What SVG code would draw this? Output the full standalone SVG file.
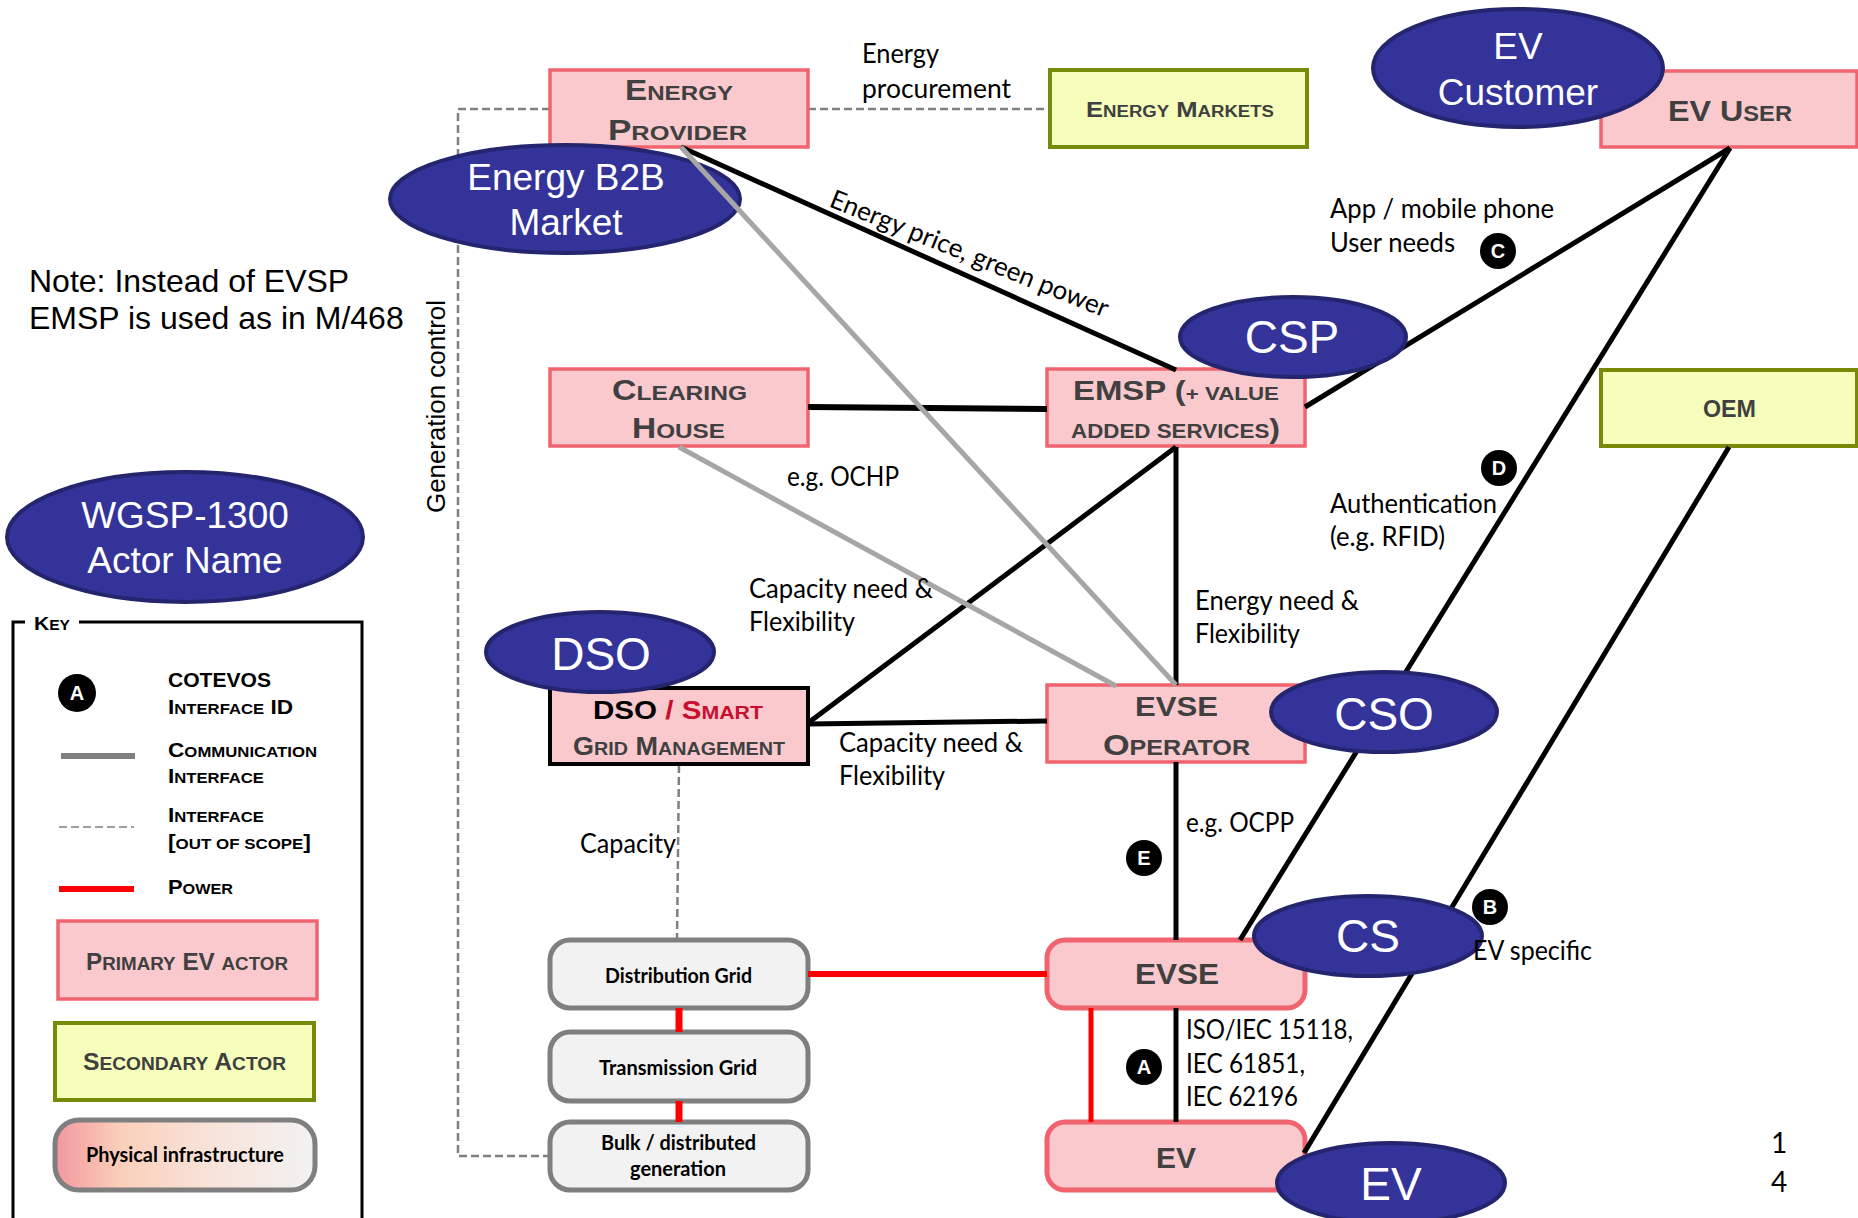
<svg xmlns="http://www.w3.org/2000/svg" width="1858" height="1218" viewBox="0 0 1858 1218">
  <style>
    .box{fill:#F9C9CD;stroke:#F0646F;stroke-width:3.5}
    .box-dso{fill:#F9C9CD;stroke:#000;stroke-width:4}
    .sec{fill:#F5FEBB;stroke:#778A0A;stroke-width:4}
    .infra{fill:#F2F2F2;stroke:#7F7F7F;stroke-width:5}
    .ev{fill:#F9C9CD;stroke:#F0646F;stroke-width:5}
    .actor{fill:#333399;stroke:#25256F;stroke-width:4}
    .t{font-family:"Liberation Sans",Arial,sans-serif;font-weight:bold;fill:#404040}
    .a{font-family:"Liberation Sans",Arial,sans-serif;fill:#fff;text-anchor:middle}
    .c{font-family:Lato,"Open Sans",sans-serif;font-size:26px;fill:#000}
    .i{font-family:Lato,"Open Sans",sans-serif;font-weight:bold;font-size:20px;fill:#000}
    .comm{stroke:#000;stroke-width:5;fill:none}
    .gray{stroke:#A6A6A6;stroke-width:5;fill:none}
    .pow{stroke:#F00;stroke-width:6;fill:none}
    .dash{stroke:#808080;stroke-width:2.5;stroke-dasharray:8 4;fill:none}
    .mk circle{fill:#000}
    .mk text{font-family:"Liberation Sans",Arial,sans-serif;font-weight:bold;font-size:20px;fill:#fff;text-anchor:middle}
  </style>
  <defs>
    <linearGradient id="physGrad" x1="0" y1="0" x2="1" y2="0">
      <stop offset="0" stop-color="#F2979E"/>
      <stop offset="0.25" stop-color="#FBCFBA"/>
      <stop offset="0.6" stop-color="#F8E3DA"/>
      <stop offset="1" stop-color="#F2F2F2"/>
    </linearGradient>
  </defs>
  <rect width="1858" height="1218" fill="#fff"/>

  <!-- out-of-scope interfaces (drawn beneath the actors) -->
  <g id="connectors-out-of-scope">
    <line class="dash" x1="808" y1="109" x2="1050" y2="109"/>
    <path class="dash" d="M550,109 H458 V1156 H550"/>
    <line class="dash" x1="679" y1="765" x2="677" y2="940"/>
  </g>

  <!-- primary and secondary actors -->
  <g id="energy-provider">
    <rect class="box" x="550" y="70" width="258" height="77"/>
    <text class="t" x="625" y="100" font-size="29" textLength="108" lengthAdjust="spacingAndGlyphs">E<tspan font-size="21">NERGY</tspan></text>
    <text class="t" x="608" y="140" font-size="29" textLength="139" lengthAdjust="spacingAndGlyphs">P<tspan font-size="21">ROVIDER</tspan></text>
  </g>
  <g id="energy-markets">
    <rect class="sec" x="1050" y="70" width="257" height="77"/>
    <text class="t" x="1086" y="117" font-size="22" textLength="188" lengthAdjust="spacingAndGlyphs">E<tspan font-size="16">NERGY</tspan> M<tspan font-size="16">ARKETS</tspan></text>
  </g>
  <g id="ev-user">
    <rect class="box" x="1601" y="71" width="256" height="76"/>
    <text class="t" x="1668" y="121" font-size="30" textLength="124" lengthAdjust="spacingAndGlyphs">EV U<tspan font-size="22">SER</tspan></text>
  </g>
  <g id="clearing-house">
    <rect class="box" x="550" y="369" width="258" height="77"/>
    <text class="t" x="612" y="400" font-size="29" textLength="135" lengthAdjust="spacingAndGlyphs">C<tspan font-size="21">LEARING</tspan></text>
    <text class="t" x="632" y="438" font-size="29" textLength="93" lengthAdjust="spacingAndGlyphs">H<tspan font-size="21">OUSE</tspan></text>
  </g>
  <g id="emsp">
    <rect class="box" x="1047" y="369" width="258" height="77"/>
    <text class="t" x="1073" y="400" font-size="28" textLength="206" lengthAdjust="spacingAndGlyphs">EMSP (<tspan font-size="19">+ VALUE</tspan></text>
    <text class="t" x="1071" y="438" font-size="19.5" textLength="209" lengthAdjust="spacingAndGlyphs">ADDED SERVICES<tspan font-size="28">)</tspan></text>
  </g>
  <g id="oem">
    <rect class="sec" x="1601" y="370" width="256" height="76"/>
    <text class="t" x="1703" y="417" font-size="23.5" textLength="53" lengthAdjust="spacingAndGlyphs">OEM</text>
  </g>
  <g id="dso-smart-grid">
    <rect class="box-dso" x="550" y="688" width="258" height="76"/>
    <text class="t" x="593" y="719" font-size="25" textLength="170" lengthAdjust="spacingAndGlyphs"><tspan fill="#000">DSO</tspan><tspan fill="#C8102E"> / S<tspan font-size="18">MART</tspan></tspan></text>
    <text class="t" x="573" y="755" font-size="26" textLength="212" lengthAdjust="spacingAndGlyphs">G<tspan font-size="19">RID</tspan> M<tspan font-size="19">ANAGEMENT</tspan></text>
  </g>
  <g id="evse-operator">
    <rect class="box" x="1047" y="685" width="258" height="77"/>
    <text class="t" x="1135" y="716" font-size="28" textLength="83" lengthAdjust="spacingAndGlyphs">EVSE</text>
    <text class="t" x="1103" y="755" font-size="30" textLength="147" lengthAdjust="spacingAndGlyphs">O<tspan font-size="22">PERATOR</tspan></text>
  </g>
  <g id="evse">
    <rect class="ev" x="1047" y="940" width="258" height="68" rx="18"/>
    <text class="t" x="1135" y="984" font-size="30" textLength="84" lengthAdjust="spacingAndGlyphs">EVSE</text>
  </g>
  <g id="ev">
    <rect class="ev" x="1047" y="1122" width="258" height="68" rx="18"/>
    <text class="t" x="1156" y="1168" font-size="30" textLength="40" lengthAdjust="spacingAndGlyphs">EV</text>
  </g>

  <!-- physical infrastructure -->
  <g id="distribution-grid">
    <rect class="infra" x="550" y="940" width="258" height="68" rx="20"/>
    <text class="i" x="605" y="983" textLength="147" lengthAdjust="spacingAndGlyphs">Distribution Grid</text>
  </g>
  <g id="transmission-grid">
    <rect class="infra" x="550" y="1032" width="258" height="69" rx="20"/>
    <text class="i" x="599" y="1075" textLength="158" lengthAdjust="spacingAndGlyphs">Transmission Grid</text>
  </g>
  <g id="generation">
    <rect class="infra" x="550" y="1122" width="258" height="68" rx="20"/>
    <text class="i" x="601" y="1150" textLength="155" lengthAdjust="spacingAndGlyphs">Bulk / distributed</text>
    <text class="i" x="630" y="1176" textLength="96" lengthAdjust="spacingAndGlyphs">generation</text>
  </g>

  <!-- role ellipse that sits under the provider links -->
  <g id="role-energy-b2b">
    <ellipse class="actor" cx="565" cy="199" rx="175" ry="54"/>
    <text class="a" x="566" y="190" font-size="37">Energy B2B</text>
    <text class="a" x="566" y="235" font-size="37">Market</text>
  </g>

  <!-- communication and power interfaces -->
  <g id="connectors">
    <line class="comm" x1="681" y1="147" x2="1176" y2="370"/>
    <line class="comm" style="stroke-width:6" x1="808" y1="407" x2="1047" y2="409"/>
    <line class="comm" x1="808" y1="723" x2="1176" y2="447"/>
    <line class="comm" x1="808" y1="724" x2="1047" y2="721"/>
    <line class="comm" x1="1176" y1="447" x2="1176" y2="685"/>
    <line class="comm" x1="1305" y1="407" x2="1730" y2="148"/>
    <line class="comm" x1="1730" y1="148" x2="1240" y2="940"/>
    <line class="comm" x1="1176" y1="762" x2="1176" y2="940"/>
    <line class="comm" x1="1176" y1="1008" x2="1176" y2="1122"/>
    <line class="comm" x1="1729" y1="447" x2="1304" y2="1153"/>
    <line class="gray" x1="681" y1="147" x2="1176" y2="685"/>
    <line class="gray" x1="679" y1="447" x2="1116" y2="686"/>
    <line class="pow" x1="808" y1="974" x2="1047" y2="974"/>
    <line class="pow" style="stroke-width:7" x1="679" y1="1008" x2="679" y2="1032"/>
    <line class="pow" style="stroke-width:7" x1="679" y1="1101" x2="679" y2="1122"/>
    <line class="pow" style="stroke-width:5" x1="1091" y1="1008" x2="1091" y2="1122"/>
  </g>

  <!-- role ellipses -->
  <g id="role-ev-customer">
    <ellipse class="actor" cx="1518" cy="68" rx="145" ry="59"/>
    <text class="a" x="1518" y="59" font-size="37">EV</text>
    <text class="a" x="1518" y="105" font-size="37">Customer</text>
  </g>
  <g id="role-csp">
    <ellipse class="actor" cx="1293" cy="337" rx="113" ry="40"/>
    <text class="a" x="1292" y="353" font-size="46">CSP</text>
  </g>
  <g id="role-dso">
    <ellipse class="actor" cx="600" cy="652" rx="114" ry="40"/>
    <text class="a" x="601" y="670" font-size="46">DSO</text>
  </g>
  <g id="role-cso">
    <ellipse class="actor" cx="1384" cy="712" rx="113" ry="40"/>
    <text class="a" x="1384" y="730" font-size="46">CSO</text>
  </g>
  <g id="role-cs">
    <ellipse class="actor" cx="1368" cy="936" rx="114" ry="40"/>
    <text class="a" x="1368" y="952" font-size="46">CS</text>
  </g>
  <g id="role-ev">
    <ellipse class="actor" cx="1391" cy="1183" rx="114" ry="40"/>
    <text class="a" x="1391" y="1200" font-size="46">EV</text>
  </g>
  <g id="role-legend">
    <ellipse class="actor" cx="185" cy="537" rx="178" ry="65"/>
    <text class="a" x="185" y="528" font-size="37">WGSP-1300</text>
    <text class="a" x="185" y="573" font-size="37">Actor Name</text>
  </g>

  <!-- interface labels -->
  <g id="connector-labels">
    <text class="c" x="862" y="63" textLength="77" lengthAdjust="spacingAndGlyphs">Energy</text>
    <text class="c" x="862" y="98" textLength="149" lengthAdjust="spacingAndGlyphs">procurement</text>
    <text class="c" transform="translate(828,206) rotate(22)" textLength="298" lengthAdjust="spacingAndGlyphs">Energy price, green power</text>
    <text class="c" x="1330" y="218" textLength="224" lengthAdjust="spacingAndGlyphs">App / mobile phone</text>
    <text class="c" x="1330" y="252" textLength="125" lengthAdjust="spacingAndGlyphs">User needs</text>
    <text class="c" x="787" y="486" textLength="112" lengthAdjust="spacingAndGlyphs">e.g. OCHP</text>
    <text class="c" x="749" y="598" textLength="184" lengthAdjust="spacingAndGlyphs">Capacity need &amp;</text>
    <text class="c" x="749" y="631" textLength="106" lengthAdjust="spacingAndGlyphs">Flexibility</text>
    <text class="c" x="1195" y="610" textLength="164" lengthAdjust="spacingAndGlyphs">Energy need &amp;</text>
    <text class="c" x="1195" y="643" textLength="105" lengthAdjust="spacingAndGlyphs">Flexibility</text>
    <text class="c" x="1330" y="513" textLength="167" lengthAdjust="spacingAndGlyphs">Authentication</text>
    <text class="c" x="1330" y="546" textLength="115" lengthAdjust="spacingAndGlyphs">(e.g. RFID)</text>
    <text class="c" x="839" y="752" textLength="184" lengthAdjust="spacingAndGlyphs">Capacity need &amp;</text>
    <text class="c" x="839" y="785" textLength="106" lengthAdjust="spacingAndGlyphs">Flexibility</text>
    <text class="c" x="1186" y="832" textLength="108" lengthAdjust="spacingAndGlyphs">e.g. OCPP</text>
    <text class="c" x="580" y="853" textLength="96" lengthAdjust="spacingAndGlyphs">Capacity</text>
    <text class="c" x="1186" y="1039" textLength="167" lengthAdjust="spacingAndGlyphs">ISO/IEC 15118,</text>
    <text class="c" x="1186" y="1073" textLength="119" lengthAdjust="spacingAndGlyphs">IEC 61851,</text>
    <text class="c" x="1186" y="1106" textLength="112" lengthAdjust="spacingAndGlyphs">IEC 62196</text>
    <text class="c" x="1473" y="960" textLength="119" lengthAdjust="spacingAndGlyphs">EV specific</text>
    <text style="font-family:'Liberation Sans',Arial,sans-serif;font-size:26px" transform="translate(445,513) rotate(-90)" textLength="213" lengthAdjust="spacingAndGlyphs">Generation control</text>
  </g>

  <!-- interface identifiers -->
  <g id="interface-ids">
    <g class="mk"><circle cx="1498" cy="251" r="18"/><text x="1498" y="258">C</text></g>
    <g class="mk"><circle cx="1499" cy="468" r="18"/><text x="1499" y="475">D</text></g>
    <g class="mk"><circle cx="1144" cy="858" r="18"/><text x="1144" y="865">E</text></g>
    <g class="mk"><circle cx="1144" cy="1067" r="18"/><text x="1144" y="1074">A</text></g>
    <g class="mk"><circle cx="1490" cy="907" r="18"/><text x="1490" y="914">B</text></g>
  </g>

  <!-- note and page number -->
  <g id="note">
    <text style="font-family:'Liberation Sans',Arial,sans-serif;font-size:32px;fill:#000" x="29" y="292">Note: Instead of EVSP</text>
    <text style="font-family:'Liberation Sans',Arial,sans-serif;font-size:32px;fill:#000" x="29" y="329">EMSP is used as in M/468</text>
  </g>
  <g id="page-number">
    <text class="c" x="1779" y="1153" text-anchor="middle" style="font-size:28px">1</text>
    <text class="c" x="1779" y="1192" text-anchor="middle" style="font-size:28px">4</text>
  </g>

  <!-- key -->
  <g id="key">
    <path d="M25,622 H13 V1218 M79,622 H362 V1218" fill="none" stroke="#000" stroke-width="3"/>
    <text class="t" x="34" y="630" font-size="19" textLength="36" lengthAdjust="spacingAndGlyphs" style="fill:#000">K<tspan font-size="14">EY</tspan></text>
    <g class="mk"><circle cx="77" cy="693" r="19"/><text x="77" y="700">A</text></g>
    <text class="t" x="168" y="687" font-size="21" textLength="103" lengthAdjust="spacingAndGlyphs" style="fill:#000">COTEVOS</text>
    <text class="t" x="168" y="714" font-size="21" textLength="125" lengthAdjust="spacingAndGlyphs" style="fill:#000">I<tspan font-size="15.5">NTERFACE</tspan> ID</text>
    <line x1="61" y1="756" x2="135" y2="756" stroke="#7F7F7F" stroke-width="6"/>
    <text class="t" x="168" y="757" font-size="21" textLength="149" lengthAdjust="spacingAndGlyphs" style="fill:#000">C<tspan font-size="15.5">OMMUNICATION</tspan></text>
    <text class="t" x="168" y="783" font-size="21" textLength="96" lengthAdjust="spacingAndGlyphs" style="fill:#000">I<tspan font-size="15.5">NTERFACE</tspan></text>
    <line x1="59" y1="827" x2="134" y2="827" stroke="#7F7F7F" stroke-width="1.5" stroke-dasharray="8 4"/>
    <text class="t" x="168" y="822" font-size="21" textLength="96" lengthAdjust="spacingAndGlyphs" style="fill:#000">I<tspan font-size="15.5">NTERFACE</tspan></text>
    <text class="t" x="168" y="849" font-size="21" textLength="143" lengthAdjust="spacingAndGlyphs" style="fill:#000">[<tspan font-size="15.5">OUT OF SCOPE</tspan>]</text>
    <line x1="59" y1="889" x2="134" y2="889" stroke="#F00" stroke-width="6"/>
    <text class="t" x="168" y="894" font-size="21" textLength="65" lengthAdjust="spacingAndGlyphs" style="fill:#000">P<tspan font-size="15.5">OWER</tspan></text>
    <rect class="box" x="58" y="921" width="259" height="78"/>
    <text class="t" x="86" y="970" font-size="24.5" textLength="202" lengthAdjust="spacingAndGlyphs">P<tspan font-size="19">RIMARY</tspan> EV <tspan font-size="19">ACTOR</tspan></text>
    <rect class="sec" x="55" y="1023" width="259" height="77"/>
    <text class="t" x="83" y="1070" font-size="24.5" textLength="203" lengthAdjust="spacingAndGlyphs">S<tspan font-size="19">ECONDARY</tspan> A<tspan font-size="19">CTOR</tspan></text>
    <rect x="55" y="1120" width="260" height="70" rx="24" fill="url(#physGrad)" stroke="#7F7F7F" stroke-width="5"/>
    <text class="i" x="86" y="1162" textLength="198" lengthAdjust="spacingAndGlyphs">Physical infrastructure</text>
  </g>
</svg>
